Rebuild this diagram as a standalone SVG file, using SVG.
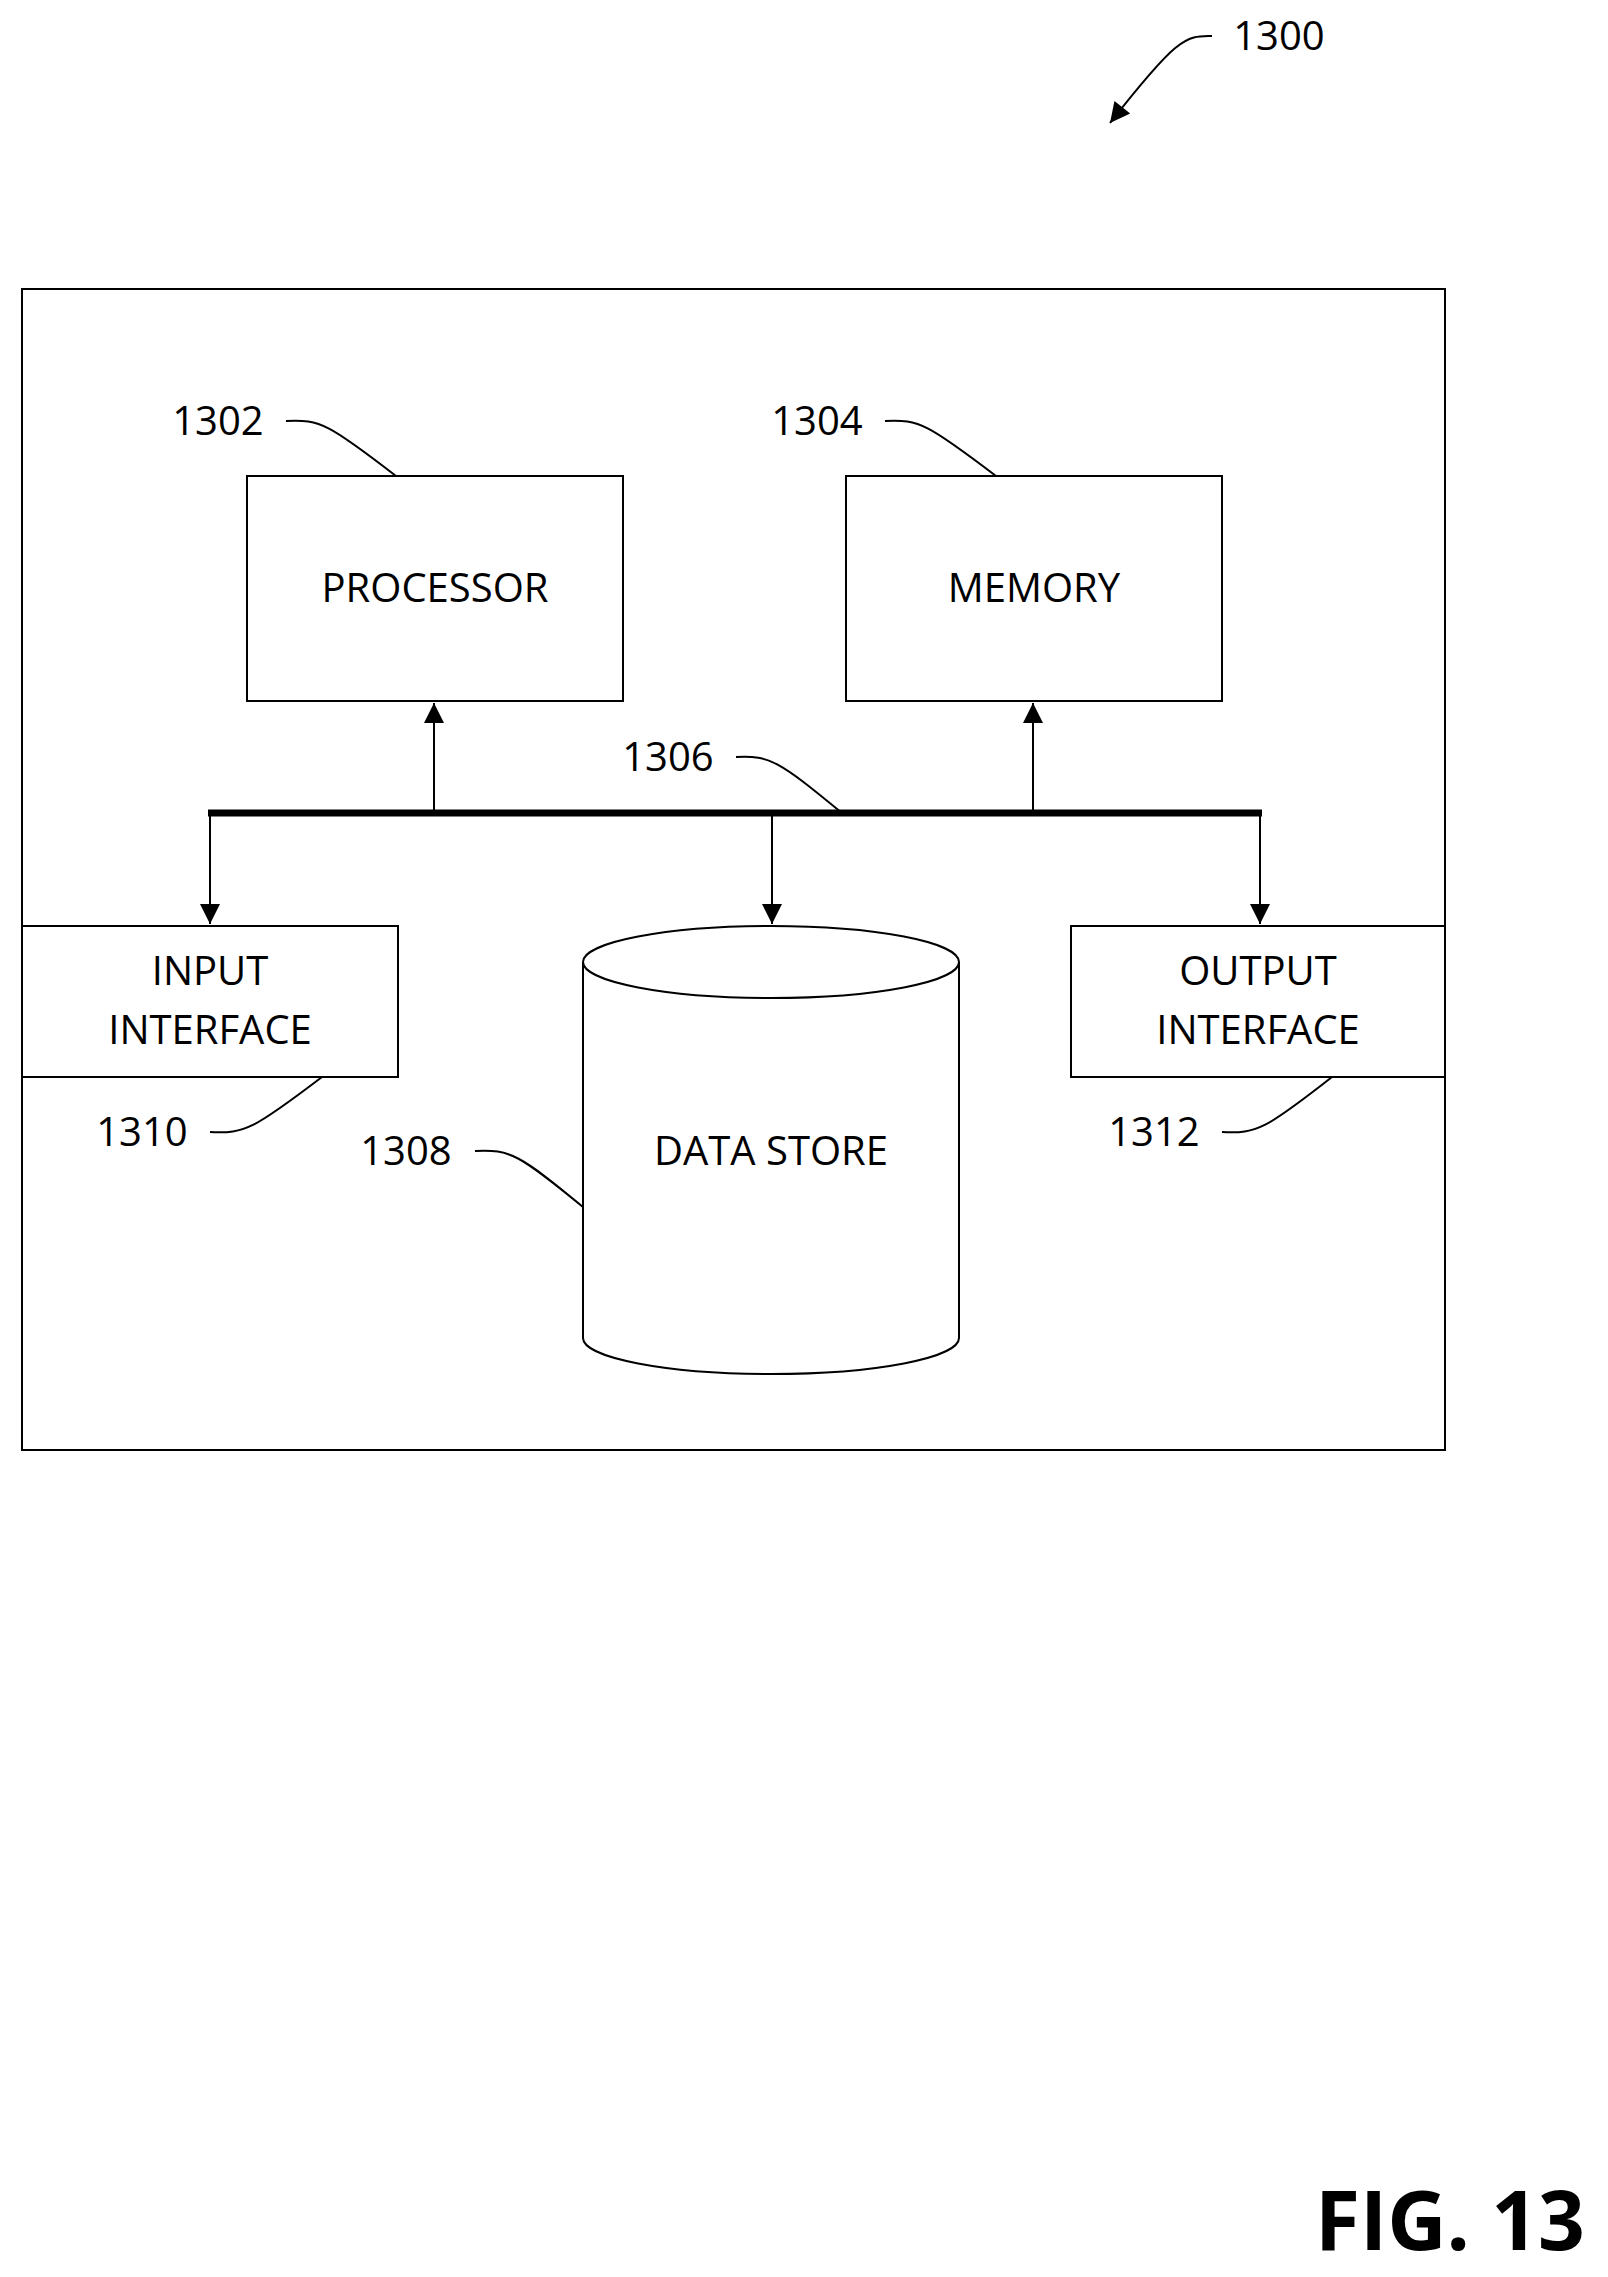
<svg xmlns="http://www.w3.org/2000/svg" width="1608" height="2277" viewBox="0 0 1608 2277">
<defs>
<marker id="ab" viewBox="0 0 10 10" refX="10" refY="5" markerWidth="30" markerHeight="20" markerUnits="userSpaceOnUse" orient="auto"><path d="M0,0L10,5L0,10z" fill="#000"/></marker>
<style>
.b{fill:#fff;stroke:#000;stroke-width:2}
.t{font-family:"Open Sans","Liberation Sans",sans-serif;font-size:40px;text-anchor:middle;fill:#000}
.l{fill:none;stroke:#000;stroke-width:2}
.c{fill:none;stroke:#000;stroke-width:2}
</style>
</defs>
<rect id="frame" x="22" y="289" width="1423" height="1161" class="b"/>
<g id="processor"><rect x="247" y="476" width="376" height="225" class="b"/><text x="435" y="602" class="t">PROCESSOR</text></g>
<g id="memory"><rect x="846" y="476" width="376" height="225" class="b"/><text x="1034" y="602" class="t">MEMORY</text></g>
<g id="input"><rect x="22" y="926" width="376" height="151" class="b"/><text x="210" y="985" class="t">INPUT</text><text x="210" y="1044" class="t">INTERFACE</text></g>
<g id="output"><rect x="1071" y="926" width="374" height="151" class="b"/><text x="1258" y="985" class="t">OUTPUT</text><text x="1258" y="1044" class="t">INTERFACE</text></g>
<g id="datastore"><path d="M583,962 L583,1338 A188,36 0 0 0 959,1338 L959,962 A188,36 0 0 0 583,962 A188,36 0 0 0 959,962" class="b"/><text x="771" y="1165" class="t">DATA STORE</text></g>
<g id="connectors">
<line x1="208" y1="813" x2="1262" y2="813" stroke="#000" stroke-width="7"/>
<line x1="434" y1="813" x2="434" y2="703" class="c" marker-end="url(#ab)"/>
<line x1="1033" y1="813" x2="1033" y2="703" class="c" marker-end="url(#ab)"/>
<line x1="210" y1="813" x2="210" y2="924" class="c" marker-end="url(#ab)"/>
<line x1="772" y1="813" x2="772" y2="924" class="c" marker-end="url(#ab)"/>
<line x1="1260" y1="813" x2="1260" y2="924" class="c" marker-end="url(#ab)"/>
<path d="M286,421 C320,419 330,425 396,476" class="l"/>
<path d="M885,421 C919,419 929,425 996,476" class="l"/>
<path d="M736,757 C770,755 780,762 842,813" class="l"/>
<path d="M210,1132 C245,1134 255,1128 322,1077" class="l"/>
<path d="M475,1151 C510,1149 520,1155 583,1207" class="l"/>
<path d="M1222,1132 C1257,1134 1267,1128 1332,1077" class="l"/>
<path d="M1212,36 C1185,35 1175,40 1110,123" class="l" marker-end="url(#ab)"/>
</g>
<g id="labels">
<text x="218" y="435" class="t">1302</text>
<text x="817" y="435" class="t">1304</text>
<text x="668" y="771" class="t">1306</text>
<text x="142" y="1146" class="t">1310</text>
<text x="406" y="1165" class="t">1308</text>
<text x="1154" y="1146" class="t">1312</text>
<text x="1279" y="50" class="t">1300</text>
<text x="1585" y="2250" text-anchor="end" font-family="Open Sans,Liberation Sans,sans-serif" font-weight="bold" font-size="82">FIG. 13</text>
</g>
</svg>
